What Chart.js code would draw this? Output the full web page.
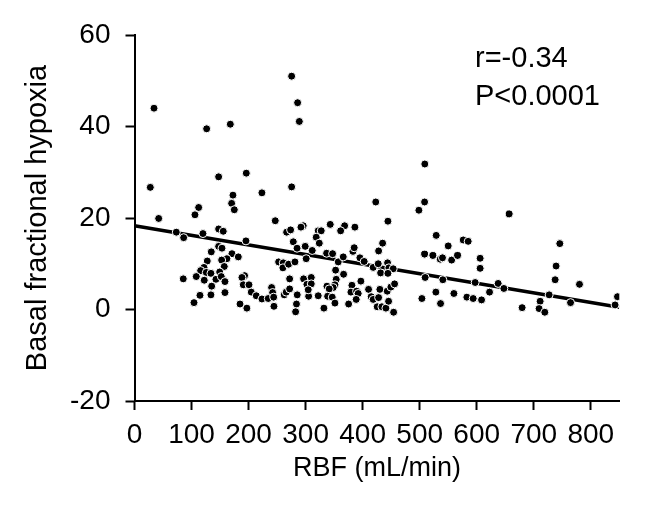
<!DOCTYPE html>
<html>
<head>
<meta charset="utf-8">
<script src="https://cdn.jsdelivr.net/npm/chart.js@4"></script>
<style>
html,body{margin:0;padding:0;background:#fff;}
#wrap{width:658px;height:515px;}
</style>
</head>
<body>
<div id="wrap"><canvas id="c" width="658" height="515"></canvas></div>
<script>
const rbf = [275.5,34.2,286,289,126.5,168,147.5,196,27.7,275.5,509,
172.6,223.4,170.3,175,112.5,106,42.4,246.8,147.5,155.6,73.3,86.2,120,195.4,266.7,273.7,278.4,285,134.6,147.5,153.4,170.9,182,162,152.8,127.6,157.4,121.8,116,125.9,134,149.3,108.3,122.3,142.8,152.1,158.6,85.5,135.3,158.6,114.8,134,104.3,252.7,260.8,260.2,270.2,281.3,193,188.4,190.7,200.7,204.7,213.5,223.4,234.5,240.4,242.2,244,262.5,266,272,272,285.3,244.5,185,197,284,282.5,
423,498.6,508.6,444.3,295.8,291.8,343.2,368.4,386.4,361.4,322.1,327.4,318.6,324,299.3,311.6,301,336.8,347.3,357.2,366,383,385.2,395.2,402.7,418.5,427.3,435,428,431.5,443.7,446,453.6,444.3,352.6,366.6,353.7,351.4,348.4,337.4,341.4,338.6,346.7,351.4,332.1,322.1,305.3,296.5,309.9,302.3,309.9,304.6,381.2,379.4,389.4,392.2,396.9,388.7,375.4,410.4,415,418.5,428,430.2,425.5,433.7,440.8,443.1,445.5,449.5,456,454.3,509.6,503.9,529,550,508.6,523.1,536,540,556,566.4,540.6,528.4,560,536.6,
657,576.3,585,606,606,597.3,637.6,647.6,582.7,593.8,608.5,622.5,679.6,711.2,709.4,719.4,727,737.5,739.2,745.7,764.5,780.2,842.6,846.8];
const hypoxia = [51.0,44.0,45.2,41.1,39.5,40.5,29.0,29.8,26.7,26.8,31.8,
25.0,25.5,23.2,21.8,22.3,20.7,19.9,19.4,17.6,17.1,16.9,15.7,16.6,15.0,16.9,17.4,14.8,13.4,12.6,13.8,13.4,12.2,11.5,11.1,10.8,10.6,9.4,9.2,8.5,8.1,7.9,8.2,7.2,6.4,6.6,7.2,6.1,6.7,5.1,3.7,3.1,3.2,1.5,10.4,10.2,9.1,9.9,10.4,7.4,7.0,5.4,5.4,3.8,3.0,2.3,2.4,4.8,3.7,2.7,3.2,3.8,4.5,6.7,3.2,0.7,1.2,0.3,1.2,-0.5,
23.5,21.7,23.5,19.3,18.3,18.0,18.6,18.3,18.0,17.2,17.2,17.2,15.8,14.5,13.8,12.9,11.1,12.3,12.2,10.4,11.5,12.7,13.5,11.3,10.5,9.2,10.0,14.5,12.8,8.0,10.2,9.1,8.9,7.9,8.6,7.7,6.6,5.4,4.8,5.1,4.5,2.9,2.7,1.4,0.3,3.0,2.9,6.7,7.0,5.5,5.6,4.3,5.3,3.8,4.0,3.5,6.2,2.2,1.2,4.4,2.8,2.2,2.6,4.4,0.6,0.6,0.3,4.0,1.8,4.9,5.6,-0.6,7.0,2.4,16.2,13.9,12.1,11.8,11.0,11.3,10.8,11.8,6.5,3.8,3.5,1.3,
20.9,15.2,14.9,11.2,9.0,5.9,5.7,4.6,2.7,2.4,2.1,3.8,0.4,1.8,0.2,-0.6,3.2,6.5,9.5,14.4,1.5,5.5,1.0,2.8];
const fitX = [0, 850];
const fitY = [18.3, 0.5];
const xTicks = [0,100,200,300,400,500,600,700,800];
const yTicks = [-20,0,20,40,60];
const statLines = ['r=-0.34','P<0.0001'];

const FONT = "'Liberation Sans', Arial, Helvetica, sans-serif";
const pts = rbf.map((x,i)=>({x:x,y:hypoxia[i]}));
const fit = fitX.map((x,i)=>({x:x,y:fitY[i]}));

const statPlugin = {
  id:'stat',
  afterDraw(chart){
    const ctx = chart.ctx;
    ctx.save();
    ctx.fillStyle = '#000';
    ctx.font = '29px ' + FONT;
    ctx.textAlign = 'left';
    ctx.textBaseline = 'alphabetic';
    ctx.fillText(statLines[0], 475, 67);
    ctx.fillText(statLines[1], 475, 105);
    ctx.restore();
  }
};

new Chart(document.getElementById('c'), {
  type:'scatter',
  data:{datasets:[
    {data:pts, backgroundColor:'#000', borderColor:'#fff', borderWidth:1, pointRadius:4, pointHoverRadius:4, order:0},
    {type:'line', data:fit, borderColor:'#000', borderWidth:3.5, pointRadius:0, fill:false, order:1}
  ]},
  options:{
    responsive:false, animation:false, devicePixelRatio:1,
    layout:{padding:{top:35, right:38.7, bottom:0, left:0}},
    plugins:{legend:{display:false}, tooltip:{enabled:false}},
    scales:{
      x:{type:'linear', min:0, max:850,
        afterFit(s){ s.height = 114; },
        afterBuildTicks(s){ s.ticks = xTicks.map(v=>({value:v})); },
        grid:{display:true, drawOnChartArea:false, drawTicks:true, tickLength:9, tickWidth:2, tickColor:'#000'},
        border:{display:true, color:'#000', width:2},
        ticks:{color:'#000', font:{family:FONT, size:28}, padding:8, maxRotation:0, autoSkip:false},
        title:{display:true, text:'RBF (mL/min)', color:'#000', font:{family:FONT, size:27}, padding:{top:0,bottom:30}}
      },
      y:{type:'linear', min:-20, max:60,
        afterFit(s){ s.width = 134.5; },
        afterBuildTicks(s){ s.ticks = yTicks.map(v=>({value:v})); },
        grid:{display:true, drawOnChartArea:false, drawTicks:true, tickLength:9, tickWidth:2, tickColor:'#000'},
        border:{display:true, color:'#000', width:2},
        ticks:{color:'#000', font:{family:FONT, size:28}, padding:15},
        title:{display:true, text:'Basal fractional hypoxia', color:'#000', font:{family:FONT, size:29}, padding:{top:21,bottom:0}}
      }
    }
  },
  plugins:[statPlugin]
});
</script>
</body>
</html>
